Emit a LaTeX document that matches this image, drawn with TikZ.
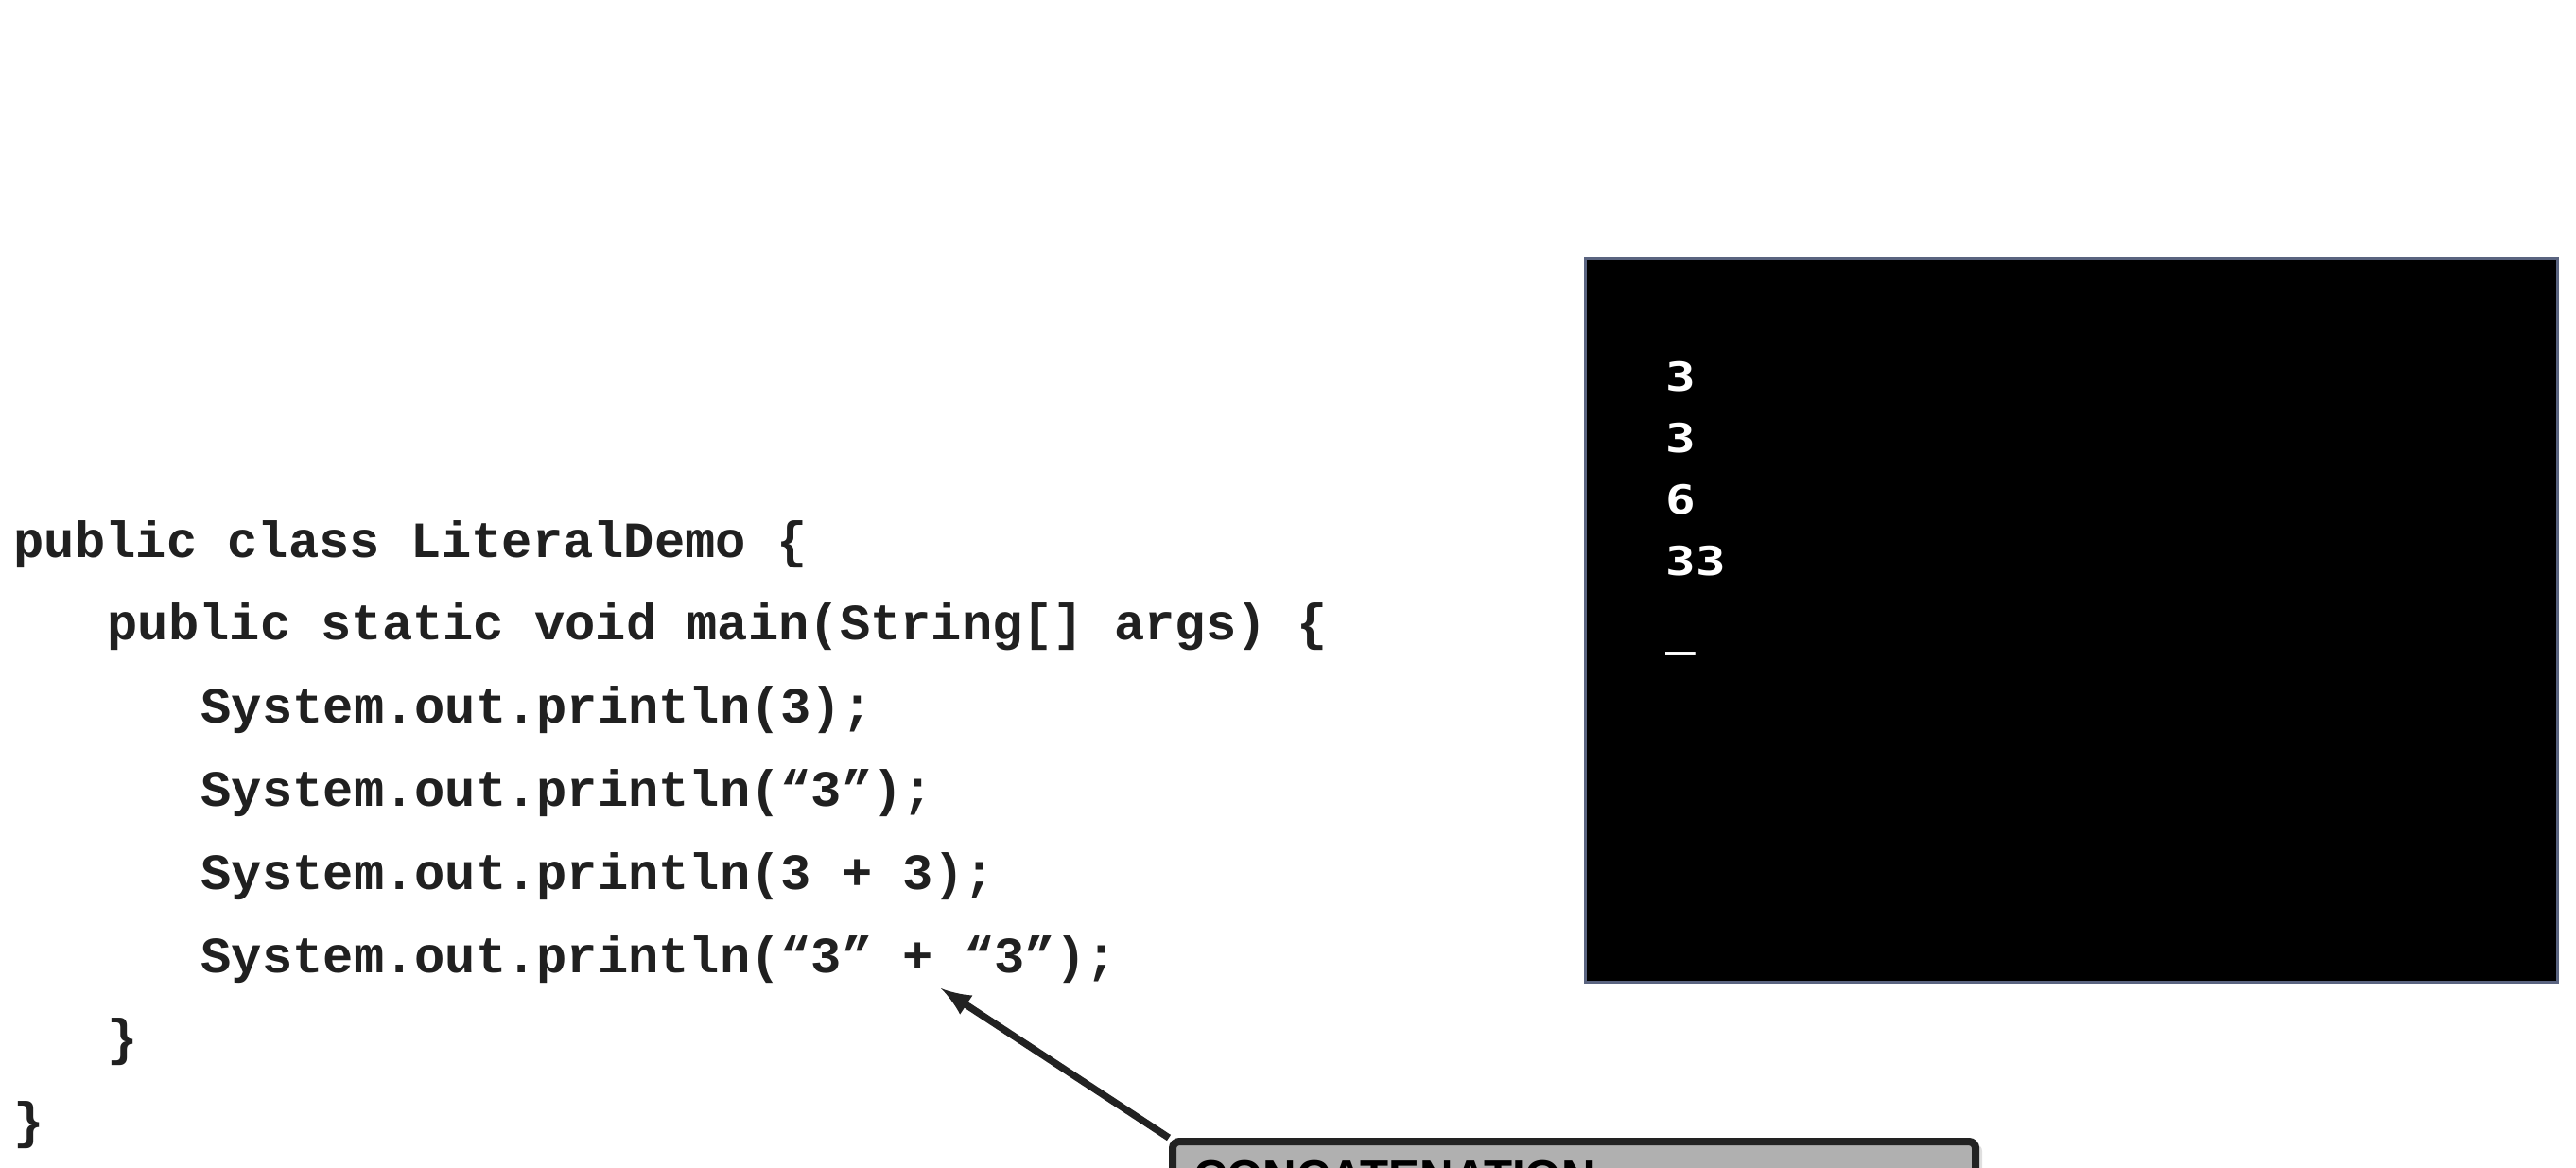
\documentclass[tikz,border=0pt]{standalone}
\usepackage{fontspec}
\usepackage{tikz}
\usetikzlibrary{arrows,matrix,shadows}

\newfontfamily\codefont{Liberation Mono}
\newfontfamily\termfont{DejaVu Sans Mono}[FakeStretch=1.25]
\newfontfamily\notefont{Liberation Sans}
\newcommand{\lvl}{\hspace*{0.99cm}}

\definecolor{codegray}{HTML}{202020}
\definecolor{termedge}{HTML}{5A6480}
\definecolor{notefill}{HTML}{B0B0B0}
\definecolor{noteedge}{HTML}{222222}

\begin{document}
\begin{tikzpicture}[every node/.style={inner sep=0pt},
  termbox/.style={draw=termedge, fill=black, line width=0.8pt},
  notebox/.style={draw=noteedge, fill=notefill, line width=2.3pt, rounded corners=2pt,
    drop shadow={shadow xshift=0.07cm, shadow yshift=-0.03cm, opacity=0.25},
    inner xsep=0.22cm, inner ysep=0.2cm, text width=8.05cm, align=left,
    font=\notefont\bfseries\fontsize{14}{17}\selectfont, text=black}]
\useasboundingbox (0,0) rectangle (27.24,12.34);
\clip (0,0) rectangle (27.24,12.34);
\fill[white] (0,0) rectangle (27.24,12.34);

\matrix (code)[matrix of nodes, matrix anchor=code-1-1.base west, row sep={0.878cm,between origins},
  nodes={anchor=base west, text=codegray, font=\codefont\bfseries\fontsize{15.3}{18}\selectfont}] at (0.14,6.45) {
public class LiteralDemo \{\\
\lvl public static void main(String[] args) \{\\
\lvl\lvl System.out.println(3);\\
\lvl\lvl System.out.println(“3”);\\
\lvl\lvl System.out.println(3 + 3);\\
\lvl\lvl System.out.println(“3” + “3”);\\
\lvl\}\\
\}\\
};

\node[termbox, anchor=south west, minimum width=10.28cm, minimum height=7.655cm] (term) at (16.75,1.94) {};

\matrix (out)[matrix of nodes, matrix anchor=out-1-1.base west, row sep={0.65cm,between origins},
  nodes={anchor=base west, text=white, font=\termfont\bfseries\fontsize{12}{14}\selectfont}] at (17.61,8.21) {
3\\
3\\
6\\
33\\[0.1cm]
\_\\
};

\node[notebox, anchor=north west] (note) at (12.36,0.31) {CONCATENATION};

\coordinate (plus) at ([shift={(9.81,-0.17)}]code-6-1.base west);
\draw[line width=2.1pt, noteedge, -latex] (note.north west) -- (plus);

\end{tikzpicture}
\end{document}
